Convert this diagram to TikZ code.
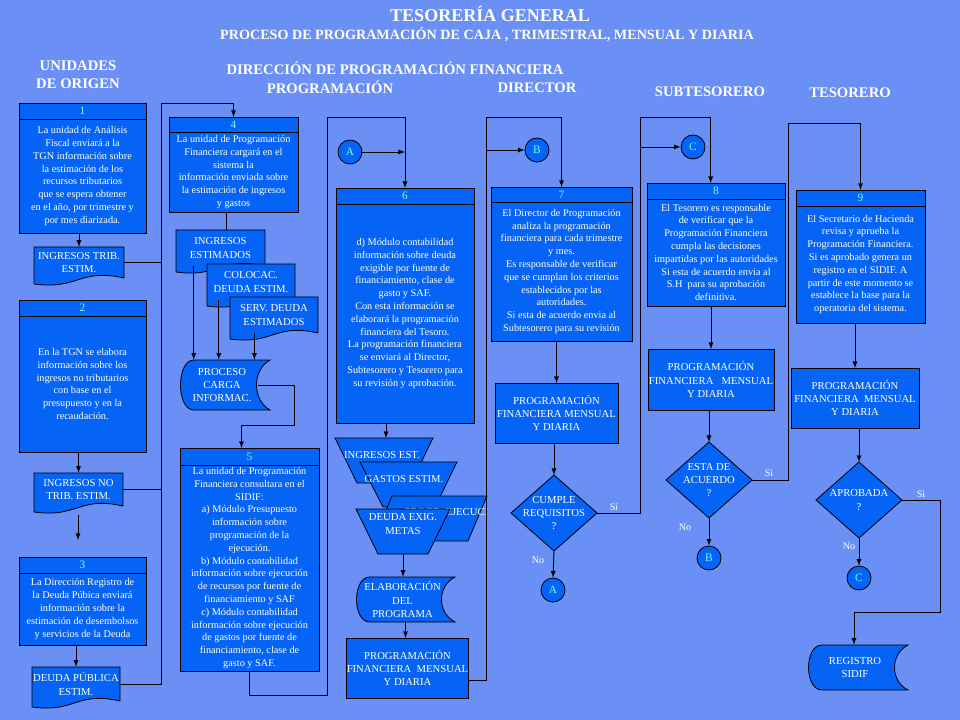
\documentclass[tikz,border=0pt]{standalone}
\usepackage{fontspec}
\setmainfont{Liberation Serif}
\newfontfamily\tms{Liberation Serif}
\usetikzlibrary{calc}
\definecolor{bg}{RGB}{106,143,245}
\definecolor{bf}{RGB}{5,100,245}
\definecolor{cy}{RGB}{110,255,255}
\tikzset{
  every node/.style={font=\tms},
  boxst/.style={draw=black,fill=bf,line width=0.6pt,inner sep=0pt,outer sep=0pt},
  txtst/.style={text=white,align=center,font=\tms\fontsize{7.7}{9.6}\selectfont,inner sep=0pt},
  capst/.style={text=white,align=center,font=\tms\fontsize{8}{10}\selectfont,inner sep=0pt},
  numst/.style={text=cy,font=\tms\fontsize{8.5}{10}\selectfont,inner sep=0pt},
  headst/.style={text=white,font=\tms\bfseries\fontsize{11}{13.5}\selectfont,align=center,inner sep=0pt},
  circst/.style={circle,draw=black,line width=0.6pt,fill=bf,minimum size=18pt,inner sep=0pt,text=cy,font=\tms\fontsize{8.5}{10}\selectfont},
  ln/.style={draw=black,line width=0.7pt},
  arr/.style={ln,-latex},
  lab/.style={text=white,font=\tms\fontsize{7.6}{9}\selectfont,inner sep=0pt}
}
\newcommand\pbox[8]{%
  \node[boxst,minimum width={(#4-#2)*0.75pt},minimum height={(#5-#3)*0.75pt}] (#1) at ({(#2+#4)/2},{(#3+#5)/2}) {};
  \draw[line width=0.6pt] (#2,#6) -- (#4,#6);
  \node[numst] (#1h) at ({(#2+#4)/2},{(#3+#6)/2}) {#7};
  \node[txtst] (#1t) at ({(#2+#4)/2},{(#6+#5)/2}) {#8};}
\newcommand\plbox[6]{%
  \node[boxst,capst,minimum width={(#4-#2)*0.75pt},minimum height={(#5-#3)*0.75pt}] (#1) at ({(#2+#4)/2},{(#3+#5)/2}) {#6};}
\newcommand\docu[6]{%
  \path[boxst] (#2,#3) -- (#4,#3) -- (#4,#5-6) .. controls ({(#2+#4)/2},#5-16) and ({(#2+#4)/2},#5+6) .. (#2,#5) -- cycle;
  \node[minimum width={(#4-#2)*0.75pt},minimum height={(#5-#3-6)*0.75pt},inner sep=0pt] (#1) at ({(#2+#4)/2},{(#3+#5-6)/2}) {};
  \node[capst] (#1t) at ({(#2+#4)/2},{(#3+#5-6)/2}) {#6};}
\newcommand\stored[6]{%
  \path[boxst] (#2+14,#3) -- (#4,#3) .. controls (#4-18,{#3+(#5-#3)*0.2}) and (#4-18,{#5-(#5-#3)*0.2}) .. (#4,#5) -- (#2+14,#5) .. controls (#2-4,#5) and (#2-4,#3) .. (#2+14,#3) -- cycle;
  \node[minimum width={(#4-#2)*0.75pt},minimum height={(#5-#3)*0.75pt},inner sep=0pt] (#1) at ({(#2+#4)/2},{(#3+#5)/2}) {};
  \node[capst] (#1t) at ({(#2+#4)/2-3},{(#3+#5)/2}) {#6};}
\newcommand\dia[4]{%
  \path[boxst] (#2-43,#3) -- (#2,#3-38) -- (#2+43,#3) -- (#2,#3+38) -- cycle;
  \coordinate (#1N) at (#2,#3-38); \coordinate (#1S) at (#2,#3+38); \coordinate (#1E) at (#2+43,#3);
  \node[capst] (#1) at (#2,#3) {#4};}
\begin{document}
\begin{tikzpicture}[x=0.75pt,y=-0.75pt]
\fill[bg] (0,0) rectangle (960,720);
\useasboundingbox (0,0) rectangle (960,720);
\node[headst,font=\tms\bfseries\fontsize{13.5}{15}\selectfont] (ttl) at (490,14) {TESORERÍA GENERAL};
\node[headst,font=\tms\bfseries\fontsize{10.6}{12}\selectfont] (sub) at (487,35) {PROCESO DE PROGRAMACIÓN DE CAJA , TRIMESTRAL, MENSUAL Y DIARIA};
\node[headst] (h1) at (78,75) {UNIDADES\\DE ORIGEN};
\node[headst] (h2) at (395,68) {DIRECCIÓN DE PROGRAMACIÓN FINANCIERA};
\node[headst] (h3) at (330,87) {PROGRAMACIÓN};
\node[headst] (h4) at (537,88) {DIRECTOR};
\node[headst] (h5) at (710,92) {SUBTESORERO};
\node[headst] (h6) at (850,93) {TESORERO};
% column 1
\pbox{b1}{19}{103}{146}{233}{119}{1}{La unidad de Análisis\\Fiscal enviará a la\\TGN información sobre\\la estimación de los\\recursos tributarios\\que se espera obtener\\en el año, por trimestre y\\por mes diarizada.}
\docu{d1}{34}{247}{124}{284}{INGRESOS TRIB.\\ESTIM.}
\pbox{b2}{19}{300}{146}{452}{316}{2}{En la TGN se elabora\\información sobre los\\ingresos no tributarios\\con base en el\\presupuesto y en la\\recaudación.}
\docu{d2}{34}{473}{123}{512}{INGRESOS NO\\TRIB. ESTIM.}
\pbox{b3}{19}{557}{146}{645}{573}{3}{La Dirección Registro de\\la Deuda Púbica enviará\\información sobre la\\estimación de desembolsos\\y servicios de la Deuda}
\docu{d3}{32}{667}{120}{707}{DEUDA PÚBLICA\\ESTIM.}
\coordinate (tA) at (161,103);
\coordinate (f1) at (78,515); \coordinate (f2) at (78,540);
\draw[arr] (b1.south -| d1.north) -- (d1.north);
\draw[arr] (b2.south -| d2.north) -- (d2.north);
\draw[arr] (f1) -- (f2);
\draw[arr] (b3.south -| d3.north) -- (d3.north);
\draw[ln] (d1.east) -- (d1.east -| tA);
\draw[ln] (d2.east) -- (d2.east -| tA);
% column 2
\pbox{b4}{169}{117}{298}{212}{132}{4}{La unidad de Programación\\Financiera cargará en el\\sistema la\\información enviada sobre\\la estimación de ingresos\\y gastos}
\draw[arr] (d3.east) -| (tA) -| (b4.north);
\docu{de1}{176}{230}{265}{272}{INGRESOS\\ESTIMADOS}
\docu{de2}{207}{264}{295}{306}{COLOCAC.\\DEUDA ESTIM.}
\docu{de3}{230}{297}{318}{339}{SERV. DEUDA\\ESTIMADOS}
\draw[ln] (b4.south -| 226,0) -- (de1.north -| 226,0);
\stored{pc}{180}{360}{270}{410}{PROCESO\\CARGA\\INFORMAC.}
\draw[arr] ([xshift=13.5pt]de1.south west) -- ([xshift=13.5pt]de1.south west |- pc.north);
\draw[arr] ([xshift=9pt]de2.south west) -- ([xshift=9pt]de2.south west |- pc.north);
\draw[arr] ([xshift=18.5pt]de3.south west) -- ([xshift=18.5pt]de3.south west |- pc.north);
\pbox{b5}{180}{448}{319}{671}{465}{5}{La unidad de Programación\\Financiera consultara en el\\SIDIF:\\a) Módulo Presupuesto\\información sobre\\programación de la\\ejecución.\\b) Módulo contabilidad\\información sobre ejecución\\de recursos por fuente de\\financiamiento y SAF\\c) Módulo contabilidad\\información sobre ejecución\\de gastos por fuente de\\financiamiento, clase de\\gasto y SAF.}
\draw[arr] ([xshift=-9pt]pc.east) -| (294,425) -| ([xshift=-6pt]b5.north);
% column 3
\pbox{b6}{336}{188}{474}{423}{204}{6}{d) Módulo contabilidad\\información sobre deuda\\exigible por fuente de\\financiamiento, clase de\\gasto y SAF.\\Con esta información se\\elaborará la programación\\financiera del Tesoro.\\La programación financiera\\se enviará al Director,\\Subtesorero y Tesorero para\\su revisión y aprobación.}
\draw[arr] (b5.south) -- ++(0,24) -| (327,117) -| (b6.north);
\node[circst] (cA1) at (350,152) {A};
\draw[arr] (cA1.east) -- (cA1.east -| b6.north);
\path[boxst] (335,438) -- (433,438) -- (411,483) -- (357,483) -- cycle;
\node[capst] (tz1) at (382,455) {INGRESOS EST.};
\path[boxst] (360,462) -- (457,462) -- (435,507) -- (383,507) -- cycle;
\node[capst] (tz2) at (404,479) {GASTOS ESTIM.};
\path[boxst] (392,496) -- (487,496) -- (468,541) -- (373,541) -- cycle;
\node[capst] (tz3) at (446,512) {PROGR. EJECUC.};
\path[boxst] (356,509) -- (450,509) -- (428,554) -- (378,554) -- cycle;
\node[capst] (tz4) at (403,524) {DEUDA EXIG.\\METAS};
\coordinate (tz1N) at (386,438); \coordinate (tz4S) at (403,554);
\draw[arr] (b6.south -| tz1N) -- (tz1N);
\stored{el}{356}{577}{455}{622}{ELABORACIÓN\\DEL\\PROGRAMA}
\draw[arr] (tz4S) -- (tz4S |- el.north);
\plbox{pf1}{347}{638}{468}{698}{PROGRAMACIÓN\\FINANCIERA\ \ MENSUAL\\Y DIARIA}
\draw[arr] (el.south) -- (el.south |- pf1.north);
% column 4
\pbox{b7}{491}{187}{632}{341}{202}{7}{El Director de Programación\\analiza la programación\\financiera para cada trimestre\\y mes.\\Es responsable de verificar\\que se cumplan los criterios\\establecidos por las\\autoridades.\\Si esta de acuerdo envia al\\Subtesorero para su revisión}
\draw[arr] (pf1.east |- 0,680) -| (486,117) -| (b7.north);
\node[circst] (cB1) at (537,150) {B};
\draw[arr] (486,150) -- (cB1.west);
\plbox{pf2}{495}{383}{618}{443}{PROGRAMACIÓN\\FINANCIERA MENSUAL\\Y DIARIA}
\draw[arr] (b7.south -| pf2.north) -- (pf2.north);
\dia{q1}{554}{513}{CUMPLE\\REQUISITOS\\?}
\draw[arr] (pf2.south -| q1N) -- (q1N);
\node[circst] (cA2) at (553,590) {A};
\draw[arr] (q1S) -- (cA2.north);
\node[lab] (n1) at (538,560) {No};
\node[lab] (s1) at (614,507) {Si};
% column 5
\pbox{b8}{647}{183}{785}{306}{199}{8}{El Tesorero es responsable\\de verificar que la\\Programación Financiera\\cumpla las decisiones\\impartidas por las autoridades\\Si esta de acuerdo envia al\\S.H\ \ para su aprobación\\definitiva.}
\draw[arr] (q1E) -| (640,117) -| ([xshift=-4pt]b8.north);
\node[circst] (cC1) at (693,147) {C};
\draw[arr] (640,147) -- (cC1.west);
\plbox{pf3}{648}{349}{774}{410}{PROGRAMACIÓN\\FINANCIERA\ \ \ MENSUAL\\Y DIARIA}
\draw[arr] (b8.south -| pf3.north) -- (pf3.north);
\dia{q2}{709}{480}{ESTA DE\\ACUERDO\\?}
\draw[arr] (pf3.south -| q2N) -- (q2N);
\node[circst] (cB2) at (709,558) {B};
\draw[arr] (q2S) -- (cB2.north);
\node[lab] (n2) at (685,527) {No};
\node[lab] (s2) at (769,473) {Si};
% column 6
\pbox{b9}{796}{190}{925}{323}{206}{9}{El Secretario de Hacienda\\revisa y aprueba la\\Programación Financiera.\\Si es aprobado genera un\\registro en el SIDIF. A\\partir de este momento se\\establece la base para la\\operatoria del sistema.}
\draw[arr] (q2E) -| (788,123) -| (b9.north);
\plbox{pf4}{791}{368}{919}{428}{PROGRAMACIÓN\\FINANCIERA\ \ MENSUAL\\Y DIARIA}
\draw[arr] (b9.south -| pf4.north) -- (pf4.north);
\dia{q3}{859}{500}{APROBADA\\?}
\draw[arr] (pf4.south -| q3N) -- (q3N);
\node[circst] (cC2) at (859,578) {C};
\draw[arr] (q3S) -- (cC2.north);
\node[lab] (n3) at (849,546) {No};
\node[lab] (s3) at (921,494) {Si};
\stored{rs}{808}{645}{908}{690}{REGISTRO\\SIDIF}
\draw[arr] (q3E) -| (940,612) -| ([xshift=-3pt]rs.north);
\end{tikzpicture}
\end{document}
